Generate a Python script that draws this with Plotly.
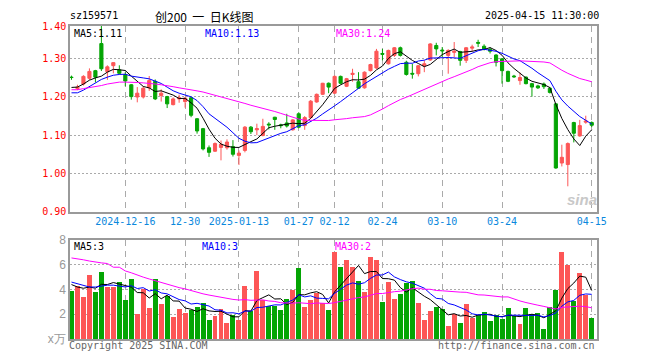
import numpy as np
import plotly.graph_objects as go

# ---------------- data ----------------
dates = [
    "2024-12-03", "2024-12-04", "2024-12-05", "2024-12-06", "2024-12-09", "2024-12-10", "2024-12-11",
    "2024-12-12", "2024-12-13", "2024-12-16", "2024-12-17", "2024-12-18", "2024-12-19", "2024-12-20",
    "2024-12-23", "2024-12-24", "2024-12-25", "2024-12-26", "2024-12-27", "2024-12-30", "2024-12-31",
    "2025-01-02", "2025-01-03", "2025-01-06", "2025-01-07", "2025-01-08", "2025-01-09", "2025-01-10",
    "2025-01-13", "2025-01-14", "2025-01-15", "2025-01-16", "2025-01-17", "2025-01-20", "2025-01-21",
    "2025-01-22", "2025-01-23", "2025-01-24", "2025-01-27", "2025-02-05", "2025-02-06", "2025-02-07",
    "2025-02-10", "2025-02-11", "2025-02-12", "2025-02-13", "2025-02-14", "2025-02-17", "2025-02-18",
    "2025-02-19", "2025-02-20", "2025-02-21", "2025-02-24", "2025-02-25", "2025-02-26", "2025-02-27",
    "2025-02-28", "2025-03-03", "2025-03-04", "2025-03-05", "2025-03-06", "2025-03-07", "2025-03-10",
    "2025-03-11", "2025-03-12", "2025-03-13", "2025-03-14", "2025-03-17", "2025-03-18", "2025-03-19",
    "2025-03-20", "2025-03-21", "2025-03-24", "2025-03-25", "2025-03-26", "2025-03-27", "2025-03-28",
    "2025-03-31", "2025-04-01", "2025-04-02", "2025-04-03", "2025-04-07", "2025-04-08", "2025-04-09",
    "2025-04-10", "2025-04-11", "2025-04-14", "2025-04-15",
]

open_ = [1.252, 1.222, 1.234, 1.249, 1.269, 1.340, 1.266, 1.282, 1.271, 1.259,
         1.232, 1.200, 1.200, 1.224, 1.241, 1.204, 1.201, 1.180, 1.195, 1.188,
         1.198, 1.143, 1.117, 1.067, 1.058, 1.068, 1.067, 1.070, 1.047, 1.060,
         1.121, 1.114, 1.099, 1.129, 1.147, 1.127, 1.132, 1.114, 1.156, 1.125,
         1.146, 1.187, 1.207, 1.236, 1.210, 1.254, 1.228, 1.259, 1.240, 1.224,
         1.269, 1.276, 1.314, 1.287, 1.309, 1.329, 1.291, 1.262, 1.261, 1.282,
         1.297, 1.335, 1.323, 1.309, 1.317, 1.319, 1.296, 1.328, 1.343, 1.333,
         1.325, 1.310, 1.300, 1.267, 1.255, 1.243, 1.252, 1.235, 1.229, 1.234,
         1.223, 1.182, 1.027, 1.023, 1.133, 1.098, 1.134, 1.133]
high = [1.256, 1.232, 1.257, 1.275, 1.271, 1.395, 1.283, 1.291, 1.283, 1.265,
        1.234, 1.226, 1.228, 1.255, 1.246, 1.220, 1.203, 1.199, 1.206, 1.200,
        1.200, 1.145, 1.119, 1.073, 1.081, 1.086, 1.089, 1.087, 1.060, 1.124,
        1.124, 1.130, 1.143, 1.134, 1.148, 1.130, 1.156, 1.142, 1.160, 1.150,
        1.192, 1.209, 1.237, 1.238, 1.256, 1.256, 1.250, 1.274, 1.265, 1.267,
        1.287, 1.326, 1.326, 1.324, 1.331, 1.332, 1.295, 1.287, 1.284, 1.296,
        1.341, 1.342, 1.331, 1.325, 1.344, 1.321, 1.331, 1.337, 1.350, 1.338,
        1.330, 1.312, 1.302, 1.269, 1.258, 1.264, 1.254, 1.237, 1.232, 1.238,
        1.226, 1.184, 1.075, 1.081, 1.135, 1.140, 1.151, 1.136]
low = [1.245, 1.218, 1.230, 1.245, 1.238, 1.268, 1.245, 1.262, 1.259, 1.228,
       1.193, 1.186, 1.196, 1.216, 1.192, 1.188, 1.171, 1.178, 1.185, 1.172,
       1.147, 1.104, 1.060, 1.043, 1.056, 1.034, 1.062, 1.044, 1.022, 1.055,
       1.103, 1.100, 1.097, 1.115, 1.114, 1.118, 1.120, 1.112, 1.118, 1.114,
       1.144, 1.185, 1.205, 1.210, 1.208, 1.233, 1.226, 1.240, 1.221, 1.222,
       1.267, 1.274, 1.296, 1.285, 1.305, 1.306, 1.256, 1.248, 1.254, 1.265,
       1.295, 1.309, 1.304, 1.261, 1.304, 1.282, 1.289, 1.320, 1.331, 1.322,
       1.314, 1.280, 1.235, 1.239, 1.250, 1.232, 1.233, 1.201, 1.221, 1.221,
       1.209, 1.012, 1.018, 0.966, 1.081, 1.096, 1.130, 1.121]
close = [1.251, 1.226, 1.254, 1.267, 1.252, 1.274, 1.279, 1.290, 1.262, 1.242,
         1.201, 1.210, 1.223, 1.243, 1.195, 1.210, 1.182, 1.195, 1.198, 1.197,
         1.152, 1.111, 1.064, 1.055, 1.078, 1.076, 1.082, 1.050, 1.053, 1.121,
         1.109, 1.117, 1.123, 1.127, 1.141, 1.125, 1.124, 1.140, 1.121, 1.146,
         1.189, 1.207, 1.236, 1.226, 1.254, 1.236, 1.248, 1.262, 1.223, 1.265,
         1.285, 1.320, 1.312, 1.322, 1.329, 1.309, 1.259, 1.260, 1.282, 1.287,
         1.339, 1.326, 1.321, 1.322, 1.320, 1.296, 1.329, 1.331, 1.341, 1.326,
         1.320, 1.291, 1.269, 1.241, 1.253, 1.251, 1.235, 1.226, 1.224, 1.227,
         1.212, 1.014, 1.042, 1.078, 1.105, 1.125, 1.137, 1.126]

# volume (x10k lots)
volume = [3.87, 4.27, 3.39, 5.20, 3.79, 5.44, 4.19, 4.19, 4.59, 3.12,
          4.88, 2.00, 4.08, 2.48, 4.88, 2.80, 3.47, 1.76, 2.40, 2.08,
          2.32, 2.56, 2.88, 1.52, 1.84, 2.40, 1.28, 1.92, 1.52, 4.32,
          2.24, 5.52, 3.12, 2.64, 2.64, 2.32, 3.20, 4.00, 5.76, 2.56,
          3.12, 3.68, 2.88, 2.32, 7.07, 5.79, 6.35, 5.79, 4.72, 3.76,
          6.64, 6.35, 2.96, 4.64, 3.20, 3.60, 4.56, 4.72, 2.88, 1.52,
          2.24, 2.56, 2.40, 1.04, 2.00, 1.28, 2.80, 1.68, 1.92, 2.16,
          1.44, 1.92, 1.60, 2.48, 1.84, 1.20, 2.48, 2.00, 2.08, 0.80,
          2.56, 4.00, 7.07, 5.95, 3.04, 5.36, 3.55, 1.68]

# moving-average values for the first candles
# (their windows start before the first visible day)
ma5_head = [1.225, 1.226, 1.234, 1.244]
ma10_head = [1.211, 1.211, 1.218, 1.227, 1.237, 1.246, 1.252, 1.257, 1.259]
ma30_head = [1.219, 1.219, 1.222, 1.224, 1.227, 1.230, 1.234, 1.237, 1.239, 1.239,
             1.239, 1.238, 1.237, 1.236, 1.234, 1.232, 1.230, 1.227, 1.224, 1.222,
             1.219, 1.216, 1.213, 1.209, 1.205, 1.201, 1.196, 1.192, 1.188]
vma5_head = [4.40, 4.20, 4.10, 4.20]
vma10_head = [4.60, 4.45, 4.30, 4.20, 4.20, 4.30, 4.35, 4.35, 4.30]
vma30_head = [6.55, 6.50, 6.40, 6.30, 6.20, 6.15, 6.10, 5.80, 5.80, 5.50,
              5.35, 5.15, 5.00, 4.85, 4.70, 4.55, 4.45, 4.30, 4.15, 4.05,
              3.90, 3.75, 3.65, 3.55, 3.45, 3.35, 3.28, 3.20, 3.15]

tick_dates = ["2024-12-16", "2024-12-30", "2025-01-13", "2025-01-27", "2025-02-12",
              "2025-02-24", "2025-03-10", "2025-03-24", "2025-04-15"]
tick_labels = ["2024-12-16", "12-30", "2025-01-13", "01-27", "02-12",
               "02-24", "03-10", "03-24", "04-15"]
price_ticks = [0.90, 1.00, 1.10, 1.20, 1.30, 1.386]
price_tick_labels = ["0.90", "1.00", "1.10", "1.20", "1.30", "1.40"]
vol_ticks = [0, 2, 4, 6, 8]
vol_tick_labels = ["x万", "2", "4", "6", "8"]


def moving_avg(vals, n, head):
    vals = np.asarray(vals, dtype=float)
    out = []
    for i in range(len(vals)):
        if i < n - 1:
            out.append(head[i])
        else:
            out.append(float(vals[i - n + 1:i + 1].mean()))
    return out


ma5 = moving_avg(close, 5, ma5_head)
ma10 = moving_avg(close, 10, ma10_head)
ma30 = moving_avg(close, 30, ma30_head)
vma5 = moving_avg(volume, 5, vma5_head)
vma10 = moving_avg(volume, 10, vma10_head)
vma30 = moving_avg(volume, 30, vma30_head)

RED = "#fd5656"
GREEN = "#04a504"
MONO = "DejaVu Sans Mono"

# the page body has an 8px margin, so the figure starts at (8, 8) in the window
OFF = 8
W, H = 660 - OFF, 360 - OFF
L_PX, R_PX = 70, 597
P_TOP, P_BOT = 26, 211.5
V_TOP, V_BOT = 240, 339


def px(x):
    return (x - OFF) / W


def py(y):
    return 1 - (y - OFF) / H


fig = go.Figure()

fig.add_trace(go.Candlestick(
    x=dates, open=open_, high=high, low=low, close=close,
    increasing=dict(line=dict(color=RED, width=1), fillcolor=RED),
    decreasing=dict(line=dict(color=GREEN, width=1), fillcolor=GREEN),
    whiskerwidth=0, hoverinfo="skip", showlegend=False,
    xaxis="x", yaxis="y"))

for series, col in [(ma5, "#000000"), (ma10, "#0000ff"), (ma30, "#ff00ff")]:
    fig.add_trace(go.Scatter(x=dates, y=series, mode="lines",
                             line=dict(color=col, width=1),
                             hoverinfo="skip", showlegend=False,
                             xaxis="x", yaxis="y"))

bar_colors = [RED if c >= o else GREEN for o, c in zip(open_, close)]
fig.add_trace(go.Bar(x=dates, y=volume, marker=dict(color=bar_colors, line=dict(width=0)),
                     width=0.83, hoverinfo="skip", showlegend=False,
                     xaxis="x2", yaxis="y2"))
for series, col in [(vma5, "#000000"), (vma10, "#0000ff"), (vma30, "#ff00ff")]:
    fig.add_trace(go.Scatter(x=dates, y=series, mode="lines",
                             line=dict(color=col, width=1),
                             hoverinfo="skip", showlegend=False,
                             xaxis="x2", yaxis="y2"))

x_range = [-0.25, 87.88]
common_x = dict(type="category", range=x_range, domain=[px(L_PX), px(R_PX)],
                tickvals=tick_dates, ticktext=tick_labels,
                showgrid=True, gridcolor="#aaaaaa", gridwidth=1, griddash="6px,5px",
                showline=True, mirror=True, linecolor="#9a9a9a", linewidth=1.5,
                ticks="", zeroline=False, fixedrange=True, automargin=False)

fig.update_layout(
    width=W, height=H, autosize=False,
    margin=dict(l=0, r=0, t=0, b=0, pad=0),
    paper_bgcolor="white", plot_bgcolor="white",
    bargap=0, boxgap=0.25,
    xaxis=dict(**common_x, anchor="y", rangeslider=dict(visible=False),
               tickfont=dict(family=MONO, size=10, color="#0a88dd")),
    xaxis2=dict(**common_x, anchor="y2", showticklabels=False),
    yaxis=dict(domain=[py(P_BOT), py(P_TOP)], range=[0.90, 1.386],
               tickvals=price_ticks, ticktext=price_tick_labels,
               tickfont=dict(family=MONO, size=10, color="#ff0000"),
               showgrid=True, gridcolor="#aaaaaa", griddash="2px,2px",
               showline=True, mirror=True, linecolor="#9a9a9a", linewidth=1.5,
               ticks="", zeroline=False, fixedrange=True, anchor="x", automargin=False),
    yaxis2=dict(domain=[py(V_BOT), py(V_TOP)], range=[0, 8],
                tickvals=vol_ticks, ticktext=vol_tick_labels,
                tickfont=dict(family="Liberation Sans", size=12, color="#999999"),
                showgrid=True, gridcolor="#aaaaaa", griddash="2px,2px",
                showline=True, mirror=True, linecolor="#9a9a9a", linewidth=1.5,
                ticks="", zeroline=False, fixedrange=True, anchor="x2", automargin=False),
)


def note(text, x, y, color="#000000", anchor="left", size=10, family=MONO):
    fig.add_annotation(text=text, x=px(x), y=py(y), xref="paper", yref="paper",
                       xanchor=anchor, yanchor="middle", showarrow=False, borderpad=0,
                       font=dict(family=family, size=size, color=color))


note("sz159571", 69, 15.5, size=10)
note("创200  一  日K线图", 204, 16.5, anchor="center", size=12, family="Noto Sans CJK SC")
note("2025-04-15 11:30:00", 600, 15.5, anchor="right", size=10)

note(f"MA5:{ma5[-1]:.2f}", 73, 33)
note(f"MA10:{ma10[-1]:.2f}", 204, 33, color="#0000ff")
note(f"MA30:{ma30[-1]:.2f}", 335, 33, color="#ff00ff")

note(f"MA5:{int(vma5[-1])}", 73, 246.5)
note(f"MA10:{int(vma10[-1])}", 201, 246.5, color="#0000ff")
note(f"MA30:{int(vma30[-1])}", 334, 246.5, color="#ff00ff")

note("Copyright 2025 SINA.COM", 68, 345, color="#666666")
note("http://finance.sina.com.cn", 596, 345, color="#666666", anchor="right")

note("<i><b>sina</b></i>", 582, 199, color="#c8c8c8", anchor="center", size=15,
     family="Liberation Sans")

fig.write_html("out.html")
